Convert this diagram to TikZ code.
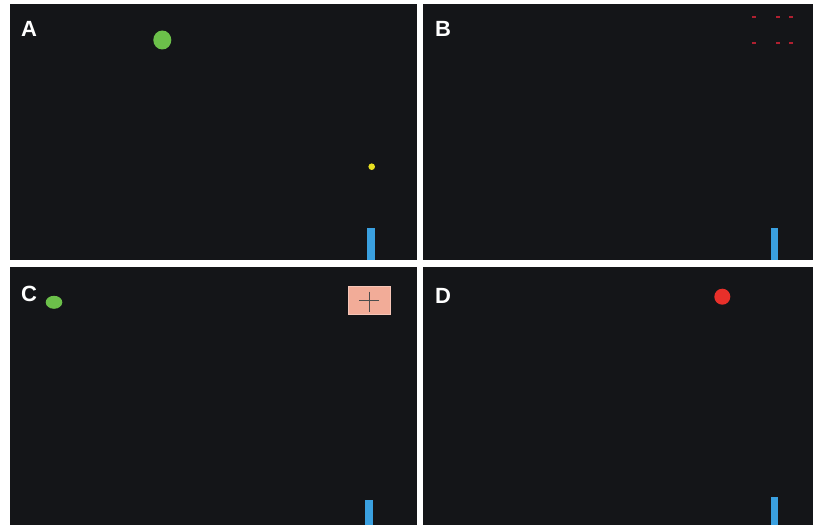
\documentclass[tikz,border=0pt]{standalone}
\usepackage{fontspec}
\setmainfont{Liberation Sans}
\definecolor{panelbg}{HTML}{141518}
\definecolor{barblue}{HTML}{3AA0E0}
\definecolor{ballgreen}{HTML}{6CC04A}
\definecolor{ballred}{HTML}{E8302A}
\definecolor{dotyellow}{HTML}{E8E020}
\definecolor{boxpink}{HTML}{F2AC98}
\definecolor{dashred}{HTML}{B02030}
\tikzset{
  panel/.style={fill=panelbg, draw=none},
  plabel/.style={text=white, font=\fontsize{22}{22}\selectfont\bfseries, inner sep=0pt, anchor=center},
  bluebar/.style={fill=barblue, draw=none},
  reddash/.style={fill=dashred, draw=none},
}
\begin{document}
\begin{tikzpicture}[x=1pt,y=-1pt]
\useasboundingbox (0,0) rectangle (813,527);
\fill[white] (0,0) rectangle (813,527);
% panels
\fill[panel] (10,4) rectangle (417,260);
\fill[panel] (423,4) rectangle (813,260);
\fill[panel] (10,267) rectangle (417,525);
\fill[panel] (423,267) rectangle (813,525);
% labels
\node[plabel] (la) at (29,28.5) {A};
\node[plabel] (lb) at (443,28.5) {B};
\node[plabel] (lc) at (29,294) {C};
\node[plabel] (ld) at (443,296) {D};
% panel A
\fill[ballgreen] (162.3,40) ellipse [x radius=9, y radius=9.5];
\fill[dotyellow] (371.7,166.7) circle [radius=3.3];
\fill[bluebar] (366.5,228) rectangle (375,260);
% panel B
\foreach \yy in {16.7,42.7}{
  \foreach \xx in {754,778.3,790.7}{
    \fill[reddash] (\xx-2,\yy-1) rectangle (\xx+2,\yy+1);
  }
}
\fill[bluebar] (771,228) rectangle (778,260);
% panel C
\fill[ballgreen] (54,302.3) ellipse [x radius=8.3, y radius=6.5];
\fill[boxpink, draw=boxpink!70!white, line width=0.6pt] (348.3,286.7) rectangle (390,314.3);
\draw[black!70, line width=0.6pt] (359,300) -- (379,300);
\draw[black!70, line width=0.6pt] (369.3,291.7) -- (369.3,311.7);
\fill[bluebar] (365,500) rectangle (372.7,525);
% panel D
\fill[ballred] (722.3,296.7) circle [radius=8];
\fill[bluebar] (770.5,497) rectangle (778,525);
\end{tikzpicture}
\end{document}
